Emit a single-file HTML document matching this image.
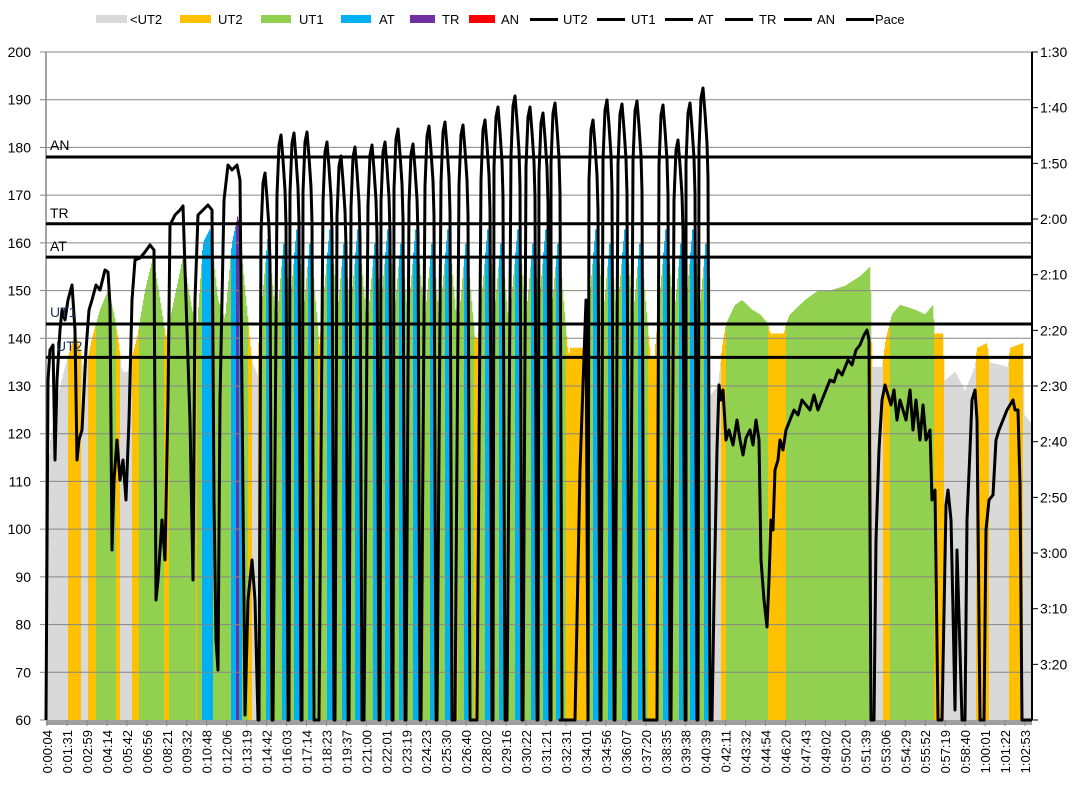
<!DOCTYPE html>
<html><head><meta charset="utf-8"><style>
html,body{margin:0;padding:0;background:#fff;}
svg{display:block;font-family:"Liberation Sans",sans-serif;}
</style></head><body>
<svg id="c" width="1087" height="788" viewBox="0 0 1087 788" xmlns="http://www.w3.org/2000/svg">
<g id="cols"></g>
<g id="grid"></g>
<g id="pace"></g>
<g id="txt" font-size="14" fill="#000"></g>
</svg>
<script>
var NS="http://www.w3.org/2000/svg";
function el(p,t,a,txt){var e=document.createElementNS(NS,t);for(var k in a)e.setAttribute(k,a[k]);if(txt!==undefined)e.textContent=txt;p.appendChild(e);return e;}
var cols=document.getElementById('cols'),grid=document.getElementById('grid'),pace=document.getElementById('pace'),txt=document.getElementById('txt');
var L=46,R=1032,T=52,B=720;
function yh(h){return B-(h-60)*(B-T)/140;}
var base=[[46,100],[50,118],[58,128],[65,134],[75,141],[80,138],[84,132],[92,140],[100,146],[108,150],[114,145],[118,140],[122,133],[128,133],[137,140],[145,150],[153,157],[160,148],[166,140],[172,146],[183,157],[192,146],[197,142],[203,160],[210,163],[218,148],[225,144],[232,160],[238,166],[245,150],[252,135],[258,132],
[470,140],[480,140],[570,138],[580,140],[590,137],[600,136],[705,136],[710,128],[718,130],[722,138],[726,143],[735,147],[742,148],[752,146],[760,145],[768,143],[770,141],[784,141],[786,143],[790,145],[805,148],[818,150],[830,150],[845,151],[860,153],[870,155],[872,134],[882,134],[886,140],[892,145],[900,147],[915,146],[925,145],[933,147],[934,141],[943,141],[944,131],[955,133],[965,129],[975,134],[977,138],[987,139],[989,135],[1008,134],[1010,138],[1023,139],[1024,124],[1032,122]];
function interp(arr,x){if(x<=arr[0][0])return arr[0][1];for(var i=1;i<arr.length;i++){if(x<=arr[i][0]){var a=arr[i-1],b=arr[i];return a[1]+(b[1]-a[1])*(x-a[0])/(b[0]-a[0]);}}return arr[arr.length-1][1];}
var pk=[[265,173],[281,135],[294,133],[307,132],[327,142],[341,156],[355,147],[372,145],[385,142],[398,129],[413,144],[429,126],[445,122],[463,125],[485,120],[498,107],[515,96],[530,107],[543,113],[555,103],[593,120],[607,100],[622,104],[637,101],[663,105],[678,140],[690,103],[703,88]];
function hr(x){var h=interp(base,x);if(x>258&&x<710){var b=(x<470)?137:(x<480?140:(x<570?137:(x<595?138:136)));h=b;for(var i=0;i<pk.length;i++){var c=pk[i][0]+3;var top=(i%2==0)?164:161;if(i==0)top=162;var v=top-Math.abs(x-c)*2.4;if(v>h)h=v;}}return h;}
function col(h){if(h>=178)return'#ff0000';if(h>=164)return'#7030a0';if(h>=157)return'#00b0f0';if(h>=143)return'#92d050';if(h>=136)return'#ffc000';return'#d9d9d9';}
for(var x=L;x<R;x++){var h=hr(x+0.5);var y=yh(h);el(cols,'rect',{x:x,y:y.toFixed(1),width:1.3,height:(B-y).toFixed(1),fill:col(h)});}
for(var v=70;v<=200;v+=10){var y=yh(v);el(grid,'line',{x1:L,x2:R,y1:y,y2:y,stroke:'#868686','stroke-width':1});}
for(var v=60;v<=200;v+=10){var y=yh(v);el(grid,'line',{x1:40,x2:L,y1:y,y2:y,stroke:'#868686','stroke-width':1});el(txt,'text',{x:31,y:y+5,'text-anchor':'end'},String(v));}
el(grid,'line',{x1:L,x2:L,y1:T,y2:B,stroke:'#868686','stroke-width':1.5});
el(grid,'rect',{x:L,y:B,width:R-L,height:5,fill:'#a0a0a0'});
for(var i=0;i<50;i++){var x=47+i*19.96;el(grid,'line',{x1:x,x2:x,y1:B,y2:B+6,stroke:'#868686'});}
[[178,'AN'],[164,'TR'],[157,'AT'],[143,'UT1'],[136,'UT2']].forEach(function(r){var y=yh(r[0]);el(grid,'line',{x1:L,x2:R,y1:y,y2:y,stroke:'#000','stroke-width':3});});
el(txt,'text',{x:50,y:150},'AN');el(txt,'text',{x:50,y:218},'TR');el(txt,'text',{x:50,y:251},'AT');
el(txt,'text',{x:50,y:317,fill:'#1f3864'},'UT1');el(txt,'text',{x:56,y:351,fill:'#1f3864'},'UT2');
el(grid,'line',{x1:R,x2:R,y1:T,y2:B,stroke:'#000','stroke-width':2});
var rl=['1:30','1:40','1:50','2:00','2:10','2:20','2:30','2:40','2:50','3:00','3:10','3:20'];
for(var i=0;i<rl.length;i++){var y=T+i*55.67;el(grid,'line',{x1:R,x2:R+6,y1:y,y2:y,stroke:'#000'});el(txt,'text',{x:1040,y:y+5},rl[i]);}
el(grid,'line',{x1:R,x2:R+6,y1:B,y2:B,stroke:'#000'});
var pts=[[46,720],[48,380],[50,350],[53,345],[55,460],[57,380],[60,330],[62,310],[65,320],[68,300],[72,285],[75,330],[77,460],[79,440],[82,430],[86,350],[89,310],[92,300],[96,285],[100,290],[105,270],[108,272],[110,305],[112,550],[114,480],[117,440],[120,480],[123,460],[126,500],[129,420],[132,300],[135,260],[140,258],[145,252],[150,245],[154,250],[156,600],[158,580],[162,520],[165,560],[168,400],[170,225],[175,215],[180,210],[183,206],[186,300],[190,420],[193,580],[195,300],[198,215],[203,210],[208,205],[212,210],[214,500],[216,640],[218,670],[220,400],[224,200],[228,165],[232,170],[237,165],[240,180],[243,500],[245,715],[248,600],[252,560],[255,600],[258,720]];
pk.forEach(function(p,i){var c=p[0],t=p[1];var prevEnd=pts[pts.length-1][0];var s=Math.max(c-8,prevEnd+1);if(c==593){pts.push([560,720],[575,720],[580,470],[586,300]);s=588;}
 if(c==663){pts.push([650,720],[656,720]);s=657;}
 pts.push([s,720],[c-4,t+60],[c-2,t+10],[c,t],[c+2,t+25],[c+4,t+55],[c+5,t+90],[c+7,720]);});
pts=pts.concat([[712,720],[714,600],[717,450],[719,385],[721,400],[723,390],[726,440],[729,430],[733,445],[737,420],[740,440],[743,455],[746,438],[750,430],[753,445],[756,420],[759,440],[761,560],[764,600],[767,627],[769,580],[771,520],[773,530],[775,470],[778,460],[780,440],[783,450],[786,430],[790,420],[794,410],[798,415],[802,400],[806,405],[810,410],[814,395],[818,410],[822,400],[826,390],[830,380],[834,382],[838,370],[842,375],[848,360],[852,365],[856,350],[860,345],[864,335],[867,330],[869,340],[871,720],[874,720],[876,540],[879,450],[882,400],[885,385],[888,395],[891,405],[894,390],[897,420],[900,400],[903,410],[906,420],[910,390],[913,430],[916,400],[920,440],[923,405],[926,440],[930,430],[932,500],[935,490],[938,720],[942,720],[946,505],[948,490],[951,520],[953,610],[955,710],[957,550],[960,650],[962,720],[965,720],[967,520],[970,450],[972,400],[975,390],[977,420],[980,720],[984,720],[986,530],[989,500],[993,495],[996,440],[999,430],[1003,420],[1007,410],[1010,405],[1013,400],[1015,410],[1018,410],[1020,485],[1022,720],[1032,720]]);
el(pace,'polyline',{points:pts.map(function(p){return p[0]+','+p[1];}).join(' '),fill:'none',stroke:'#000','stroke-width':3,'stroke-linejoin':'round'});
var xl=['0:00:04','0:01:31','0:02:59','0:04:14','0:05:42','0:06:56','0:08:21','0:09:32','0:10:48','0:12:06','0:13:19','0:14:42','0:16:03','0:17:14','0:18:23','0:19:37','0:21:00','0:22:01','0:23:19','0:24:23','0:25:30','0:26:40','0:28:02','0:29:16','0:30:22','0:31:21','0:32:31','0:34:01','0:34:56','0:36:07','0:37:20','0:38:35','0:39:38','0:40:39','0:42:11','0:43:32','0:44:54','0:46:20','0:47:43','0:49:02','0:50:20','0:51:39','0:53:06','0:54:29','0:55:52','0:57:19','0:58:40','1:00:01','1:01:22','1:02:53'];
xl.forEach(function(s,i){var x=47+i*19.96+5;el(txt,'text',{x:0,y:0,'font-size':13,'text-anchor':'end',transform:'translate('+x+',730) rotate(-90)'},s);});
var lg=[['r','#d9d9d9',96,127,130,'<UT2'],['r','#ffc000',180,211,218,'UT2'],['r','#92d050',261,291,299,'UT1'],['r','#00b0f0',341,371,379,'AT'],['r','#7030a0',410,435,442,'TR'],['r','#ff0000',469,495,501,'AN'],['l','#000',530,558,563,'UT2'],['l','#000',597,625,631,'UT1'],['l','#000',665,693,698,'AT'],['l','#000',725,753,759,'TR'],['l','#000',784,812,817,'AN'],['l','#000',846,874,875,'Pace']];
lg.forEach(function(g){if(g[0]=='r')el(txt,'rect',{x:g[2],y:15,width:g[3]-g[2],height:8,fill:g[1]});else el(txt,'line',{x1:g[2],x2:g[3],y1:19.5,y2:19.5,stroke:'#000','stroke-width':3});el(txt,'text',{x:g[4],y:24,'font-size':13},g[5]);});
</script>
</body></html>
